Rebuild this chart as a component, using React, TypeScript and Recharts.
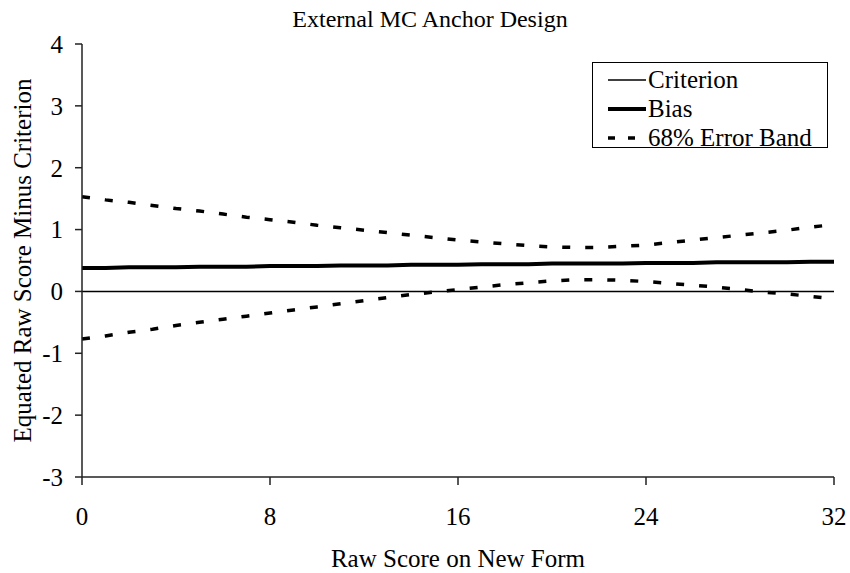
import React from 'react';
import { LineChart, Line, XAxis, YAxis } from 'recharts';

const scores = [0, 1, 2, 3, 4, 5, 6, 7, 8, 9, 10, 11, 12, 13, 14, 15, 16, 17, 18, 19, 20, 21, 22, 23, 24, 25, 26, 27, 28, 29, 30, 31, 32];
const criterion = [0, 0, 0, 0, 0, 0, 0, 0, 0, 0, 0, 0, 0, 0, 0, 0, 0, 0, 0, 0, 0, 0, 0, 0, 0, 0, 0, 0, 0, 0, 0, 0, 0];
const bias = [0.38, 0.38, 0.39, 0.39, 0.39, 0.4, 0.4, 0.4, 0.41, 0.41, 0.41, 0.42, 0.42, 0.42, 0.43, 0.43, 0.43, 0.44, 0.44, 0.44, 0.45, 0.45, 0.45, 0.45, 0.46, 0.46, 0.46, 0.47, 0.47, 0.47, 0.47, 0.48, 0.48];
const upperBand = [1.53, 1.48, 1.44, 1.39, 1.34, 1.3, 1.25, 1.2, 1.16, 1.12, 1.07, 1.03, 0.99, 0.95, 0.91, 0.87, 0.83, 0.8, 0.77, 0.74, 0.72, 0.71, 0.71, 0.73, 0.75, 0.79, 0.83, 0.87, 0.91, 0.95, 0.99, 1.04, 1.08];
const lowerBand = [-0.77, -0.72, -0.66, -0.61, -0.55, -0.5, -0.45, -0.4, -0.35, -0.3, -0.25, -0.2, -0.15, -0.1, -0.05, -0.01, 0.03, 0.07, 0.11, 0.14, 0.17, 0.19, 0.19, 0.18, 0.16, 0.13, 0.1, 0.07, 0.03, -0.01, -0.04, -0.08, -0.12];
const xTicks = [0, 8, 16, 24, 32];
const yTicks = [-3, -2, -1, 0, 1, 2, 3, 4];
const legendItems = [
  { label: 'Criterion', width: 1.5, dash: undefined },
  { label: 'Bias', width: 4, dash: undefined },
  { label: '68% Error Band', width: 3.5, dash: '7 13' },
];

const FONT = '"Liberation Serif", "Times New Roman", serif';
const DASH = '8 15';

const data = scores.map((x, i) => ({
  x,
  criterion: criterion[i],
  bias: bias[i],
  upper: upperBand[i],
  lower: lowerBand[i],
}));

// legend drawn outside recharts so it doesn't eat into the plot height
const LegendBox = () => (
  <div
    style={{
      position: 'absolute',
      left: 592,
      top: 62,
      width: 236,
      height: 86,
      border: '1px solid #000',
      background: '#fff',
      fontFamily: FONT,
      fontSize: 25,
      lineHeight: '29px',
      color: '#000',
      boxSizing: 'border-box',
      paddingTop: 2,
    }}
  >
    {legendItems.map(item => (
      <div key={item.label} style={{ display: 'flex', alignItems: 'center', height: 29, whiteSpace: 'nowrap' }}>
        <svg width={38} height={10} style={{ marginLeft: 15, display: 'block' }}>
          <line x1={0} y1={5} x2={38} y2={5} stroke="#000" strokeWidth={item.width} strokeDasharray={item.dash} />
        </svg>
        <span style={{ marginLeft: 2 }}>{item.label}</span>
      </div>
    ))}
  </div>
);

export default function App() {
  return (
    <div style={{ position: 'absolute', left: 0, top: 0, width: 850, height: 573, background: '#fff' }}>
      <div
        style={{
          position: 'absolute',
          left: 0,
          width: 860,
          top: 6,
          textAlign: 'center',
          fontFamily: FONT,
          fontSize: 24,
          lineHeight: '26px',
          color: '#000',
        }}
      >
        External MC Anchor Design
      </div>
      <LineChart width={850} height={573} data={data} margin={{ top: 44, right: 16, bottom: 0, left: 0 }}>
        <XAxis
          dataKey="x"
          type="number"
          domain={[0, 32]}
          ticks={xTicks}
          height={96}
          stroke="#222"
          strokeWidth={1.5}
          tickSize={8}
          tickMargin={22}
          tick={{ fill: '#000', fontSize: 25, fontFamily: FONT }}
          label={{ value: 'Raw Score on New Form', position: 'insideBottom', offset: 6, fill: '#000', fontSize: 25, fontFamily: FONT }}
        />
        <XAxis xAxisId="top" orientation="top" dataKey="x" type="number" domain={[0, 32]} height={0} tick={false} tickLine={false} stroke="#a0a0a0" strokeWidth={1.5} />
        <YAxis
          type="number"
          domain={[-3, 4]}
          ticks={yTicks}
          width={82}
          stroke="#222"
          strokeWidth={1.5}
          tickSize={7}
          tickMargin={12}
          tick={{ fill: '#000', fontSize: 25, fontFamily: FONT }}
          label={{ value: 'Equated Raw Score Minus Criterion', angle: -90, position: 'insideLeft', offset: 22, fill: '#000', fontSize: 25, fontFamily: FONT, style: { textAnchor: 'middle' } }}
        />
        <YAxis yAxisId="right" orientation="right" domain={[-3, 4]} width={0} tick={false} tickLine={false} stroke="#a0a0a0" strokeWidth={1.5} />
        <Line dataKey="criterion" name="Criterion" stroke="#000" strokeWidth={1.5} dot={false} isAnimationActive={false} />
        <Line dataKey="bias" name="Bias" stroke="#000" strokeWidth={4} dot={false} isAnimationActive={false} />
        <Line dataKey="upper" name="68% Error Band" stroke="#000" strokeWidth={3.5} strokeDasharray={DASH} dot={false} isAnimationActive={false} />
        <Line dataKey="lower" name="68% Error Band" stroke="#000" strokeWidth={3.5} strokeDasharray={DASH} dot={false} isAnimationActive={false} />
      </LineChart>
      <LegendBox />
    </div>
  );
}
